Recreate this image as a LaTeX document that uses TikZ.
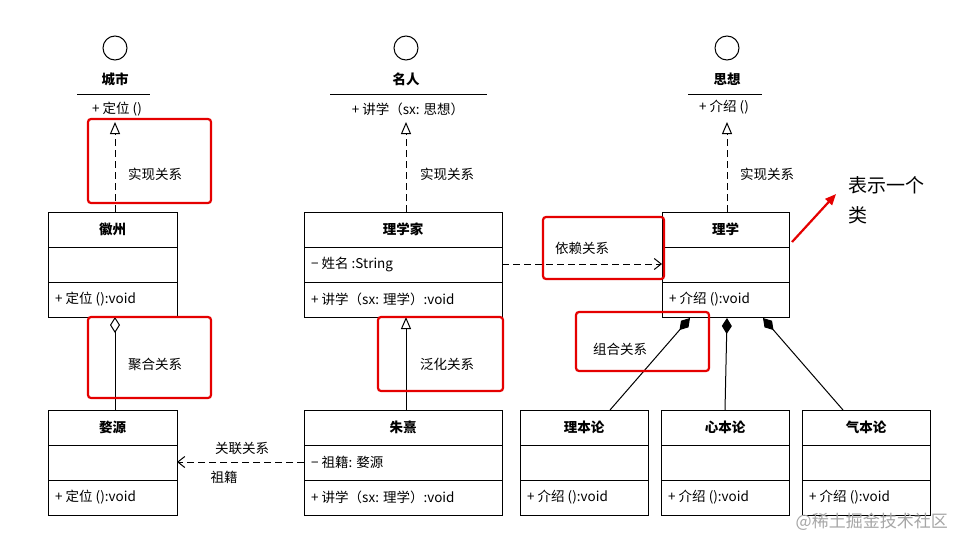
\documentclass[tikz,border=0pt]{standalone}
\usepackage{fontspec}
\setmainfont{Noto Sans CJK SC}
\usetikzlibrary{arrows.meta}
\begin{document}
\begin{tikzpicture}[x=1pt,y=-1pt,
  txt/.style={font=\fontsize{13.5}{15}\selectfont,inner sep=1pt},
  bold/.style={font=\fontsize{13.5}{15}\selectfont\bfseries},
  cell/.style={draw,line width=1pt},
  redbox/.style={draw=red!90!black,line width=2.2pt,rounded corners=3pt},
  real/.style={dashed,dash pattern=on 7pt off 4pt,line width=1pt,-{Triangle[open,width=10pt,length=12pt]}}]
\useasboundingbox (0,0) rectangle (963,551);
\fill[white] (0,0) rectangle (963,551);
\newcommand\umlclass[8]{%
  \draw[cell] (#2,#4) rectangle (#3,#4+105);
  \draw[cell] (#2,#4+35) -- (#3,#4+35);
  \draw[cell] (#2,#4+70) -- (#3,#4+70);
  \node[txt,bold] (#1) at ({(#2+#3)/2},#4+17.5) {#5};
  \node[txt,anchor=west] (#1a) at (#2+6,#4+52.5) {#6};
  \node[txt,anchor=west] (#1o) at (#2+6,#4+87.5) {#7};
  \coordinate (#1N) at (#8,#4);
  \coordinate (#1S) at (#8,#4+105);
}
\umlclass{hz}{48}{177}{212}{徽州}{}{+ 定位 ():void}{115}
\umlclass{lxj}{304}{502}{212}{理学家}{− 姓名 :String}{+ 讲学（sx: 理学）:void}{406}
\umlclass{lx}{662}{789}{212}{理学}{}{+ 介绍 ():void}{727}
\umlclass{wy}{48}{177}{410}{婺源}{}{+ 定位 ():void}{115}
\umlclass{zx}{304}{502}{410}{朱熹}{− 祖籍: 婺源}{+ 讲学（sx: 理学）:void}{406}
\umlclass{lbl}{520}{648}{410}{理本论}{}{+ 介绍 ():void}{584}
\umlclass{xbl}{661}{789}{410}{心本论}{}{+ 介绍 ():void}{725}
\umlclass{qbl}{802}{930}{410}{气本论}{}{+ 介绍 ():void}{866}
% interfaces
\draw[line width=1pt] (115,48) circle (12);
\node[txt,bold] (cs) at (115,79) {城市};
\draw[line width=1pt] (77,94) -- (150,94);
\node[txt] (csop) at (117,109) {+ 定位 ()};
\coordinate (csS) at (115,122);
\draw[line width=1pt] (406,48) circle (12);
\node[txt,bold] (mr) at (406,79) {名人};
\draw[line width=1pt] (330,94) -- (487,94);
\node[txt] (mrop) at (408,109) {+ 讲学（sx: 思想）};
\coordinate (mrS) at (406,122);
\draw[line width=1pt] (727,48) circle (12);
\node[txt,bold] (sx) at (727,79) {思想};
\draw[line width=1pt] (688,94) -- (762,94);
\node[txt] (sxop) at (724,107) {+ 介绍 ()};
\coordinate (sxS) at (727,122);
% realizations
\draw[real] (hzN) -- (csS);
\draw[real] (lxjN) -- (mrS);
\draw[real] (lxN) -- (sxS);
\node[txt] (l1) at (155,174) {实现关系};
\node[txt] (l2) at (447,174) {实现关系};
\node[txt] (l3) at (767,174) {实现关系};
% aggregation
\draw[line width=1pt,-{Diamond[open,width=10pt,length=16pt]}] (wyN) -- (hzS);
\node[txt] (l4) at (155,364) {聚合关系};
% generalization
\draw[line width=1pt,-{Triangle[open,width=10pt,length=12pt]}] (zxN) -- (lxjS);
\node[txt] (l5) at (447,364) {泛化关系};
% dependency
\coordinate (depA) at (502,264);
\coordinate (depB) at (662,264);
\draw[dashed,dash pattern=on 7pt off 4pt,line width=1pt,-{Straight Barb[width=11pt,length=7pt]}] (depA) -- (depB);
\node[txt] (l6) at (582,248) {依赖关系};
% association
\coordinate (asA) at (304,462);
\coordinate (asB) at (177,462);
\draw[dashed,dash pattern=on 7pt off 4pt,line width=1pt,-{Straight Barb[width=11pt,length=7pt]}] (asA) -- (asB);
\node[txt] (l7) at (242,448) {关联关系};
\node[txt] (l8) at (224,477) {祖籍};
% composition
\coordinate (c1) at (690,318);
\coordinate (c2) at (727,318);
\coordinate (c3) at (763,318);
\coordinate (lblN2) at (610,410);
\coordinate (qblN2) at (843,410);
\draw[line width=1pt,-{Diamond[width=10pt,length=16pt]}] (lblN2) -- (c1);
\draw[line width=1pt,-{Diamond[width=10pt,length=16pt]}] (xblN) -- (c2);
\draw[line width=1pt,-{Diamond[width=10pt,length=16pt]}] (qblN2) -- (c3);
\node[txt] (l9) at (620,349) {组合关系};
% red highlight boxes
\draw[redbox] (88,119) rectangle (211,203);
\draw[redbox] (88,317) rectangle (211,398);
\draw[redbox] (378,317) rectangle (503,391);
\draw[redbox] (543,217) rectangle (664,279);
\draw[redbox] (576,312) rectangle (709,371);
% annotation
\node[font=\fontsize{19}{30}\selectfont,align=left,anchor=north west,inner sep=0pt] (ann) at (848,176) {表示一个\\类};
\coordinate (annA) at (792,242);
\coordinate (annB) at (836,194);
\draw[red!90!black,line width=2.2pt,-{Triangle[width=9pt,length=11pt]}] (annA) -- (annB);
% watermark
\node[font=\fontsize{17}{19}\selectfont,text=gray!70,anchor=east,inner sep=0pt] (wm) at (948,522) {@稀土掘金技术社区};
\end{tikzpicture}
\end{document}
